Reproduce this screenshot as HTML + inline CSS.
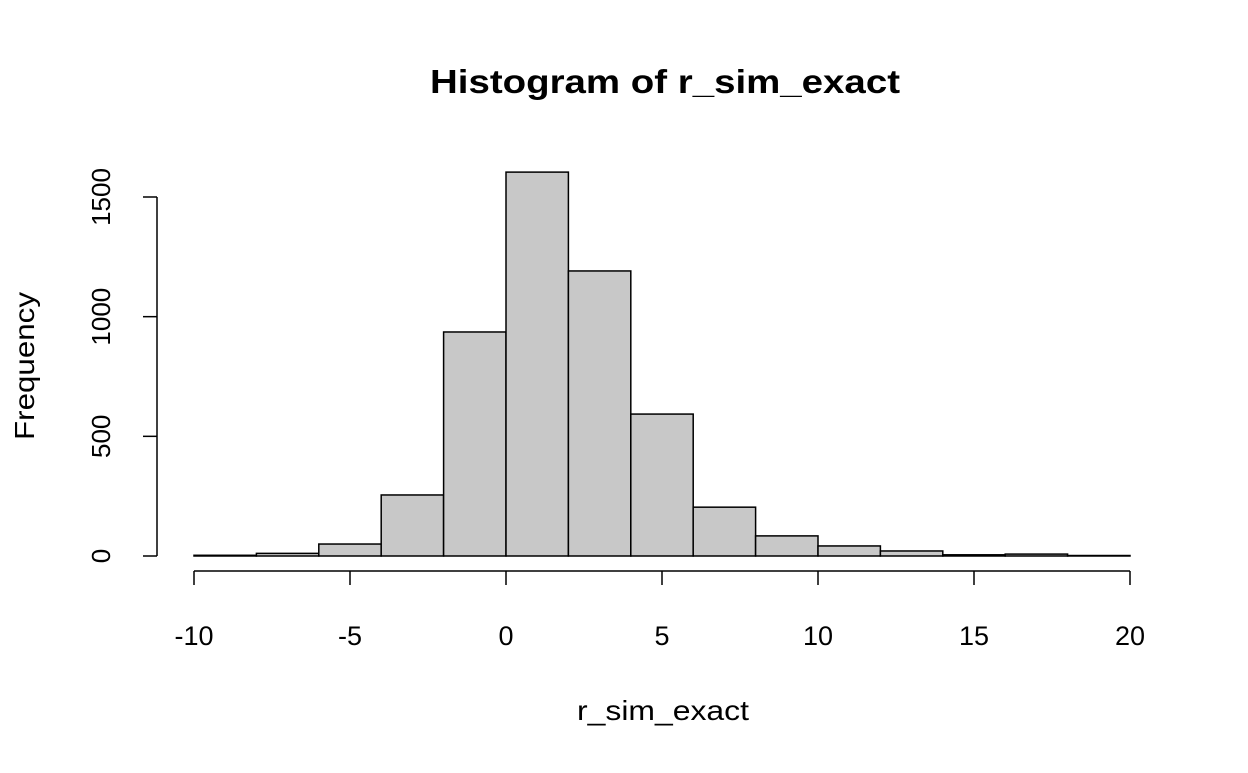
<!DOCTYPE html>
<html><head><meta charset="utf-8"><style>
html,body{margin:0;padding:0;background:#fff;}
svg text{font-family:"Liberation Sans",Arial,sans-serif;fill:#000;}
</style></head><body>
<svg id="chart" width="1248" height="768">
<text x="665" y="93" text-anchor="middle" font-size="33" font-weight="bold" textLength="470" lengthAdjust="spacingAndGlyphs">Histogram of r_sim_exact</text>
<text x="663" y="720" text-anchor="middle" font-size="28" textLength="172" lengthAdjust="spacingAndGlyphs">r_sim_exact</text>
<text transform="translate(34,366) rotate(-90)" text-anchor="middle" font-size="28" textLength="148" lengthAdjust="spacingAndGlyphs">Frequency</text>
<g id="bars"></g><g id="xaxis"></g><g id="yaxis"></g>
</svg>
<script>
const binEdges = [-10,-8,-6,-4,-2,0,2,4,6,8,10,12,14,16,18,20];
const counts = [3,11,50,255,936,1604,1191,593,204,84,42,21,5,8,2];
const xTicks = [-10,-5,0,5,10,15,20];
const yTicks = [0,500,1000,1500];
const NS="http://www.w3.org/2000/svg";
function X(v){return 194+(v+10)*(936/30);}
function Y(v){return 556-v*(359/1500);}
function mk(tag,attrs,parent){const e=document.createElementNS(NS,tag);for(const k in attrs)e.setAttribute(k,attrs[k]);parent.appendChild(e);return e;}
const bars=document.getElementById('bars');
counts.forEach((c,i)=>{
  const r=mk('rect',{x:X(binEdges[i]),y:Y(c),width:X(binEdges[i+1])-X(binEdges[i]),height:Y(0)-Y(c),fill:'#c8c8c8',stroke:'#000','stroke-width':1.5},bars);
  
  
});
const xa=document.getElementById('xaxis');


mk('line',{x1:X(xTicks[0]),x2:X(xTicks[xTicks.length-1]),y1:571,y2:571,stroke:'#000','stroke-width':1.5},xa);
xTicks.forEach(t=>{
  mk('line',{x1:X(t),x2:X(t),y1:571,y2:585,stroke:'#000','stroke-width':1.5},xa);
  const tx=mk('text',{x:X(t),y:645,'text-anchor':'middle','font-size':27},xa);
  tx.textContent=t;
  
  
});
const ya=document.getElementById('yaxis');


mk('line',{x1:157,x2:157,y1:Y(yTicks[0]),y2:Y(yTicks[yTicks.length-1]),stroke:'#000','stroke-width':1.5},ya);
yTicks.forEach(t=>{
  mk('line',{x1:143,x2:157,y1:Y(t),y2:Y(t),stroke:'#000','stroke-width':1.5},ya);
  const tx=mk('text',{x:0,y:0,'text-anchor':'middle','font-size':26,transform:'translate(110,'+Y(t)+') rotate(-90)'},ya);
  tx.textContent=t;
  
  
});
</script>
</body></html>
